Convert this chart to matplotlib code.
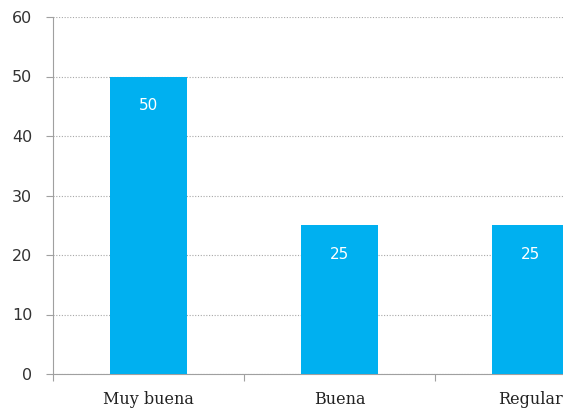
import matplotlib.pyplot as plt

# data
categories = ['Muy buena', 'Buena', 'Regular']
values = [50, 25, 25]
yticks = [0, 10, 20, 30, 40, 50, 60]

fig = plt.figure(figsize=(5.63, 4.13), dpi=100)
# axes extends past the right edge, like the original (last bar is cut off)
ax = fig.add_axes([53/563, 39/413, 573/563, 357/413])

x = range(len(categories))
ax.bar(x, values, width=0.4, color='#00B0F0', zorder=3)

for xi, v in zip(x, values):
    ax.annotate(str(v), (xi, v), xytext=(0, -29), textcoords='offset pixels',
                ha='center', va='center', color='white', fontsize=11,
                family='DejaVu Sans')

ax.set_xlim(-0.5, 2.5)
ax.set_ylim(0, 60)
ax.set_yticks(yticks)
ax.set_yticklabels([str(t) for t in yticks], fontsize=11.5, color='#333333')
ax.yaxis.grid(True, linestyle=(0, (1, 1.5)), color='#A8A8A8', linewidth=0.8, zorder=0)

# category labels centred, tick marks on the boundaries
ax.set_xticks([-0.5, 0.5, 1.5, 2.5])
ax.set_xticklabels([])
ax.set_xticks(list(x), minor=True)
ax.set_xticklabels(categories, minor=True, fontsize=11.5, family='DejaVu Serif',
                   color='#222222')
ax.tick_params(axis='x', which='minor', length=0, pad=12)
ax.tick_params(axis='x', which='major', length=5, color='#A0A0A0')
ax.tick_params(axis='y', length=5, color='#A0A0A0', pad=10)

for s in ['top', 'right']:
    ax.spines[s].set_visible(False)
for s in ['left', 'bottom']:
    ax.spines[s].set_color('#A0A0A0')

fig.savefig('out.png', dpi=100)
